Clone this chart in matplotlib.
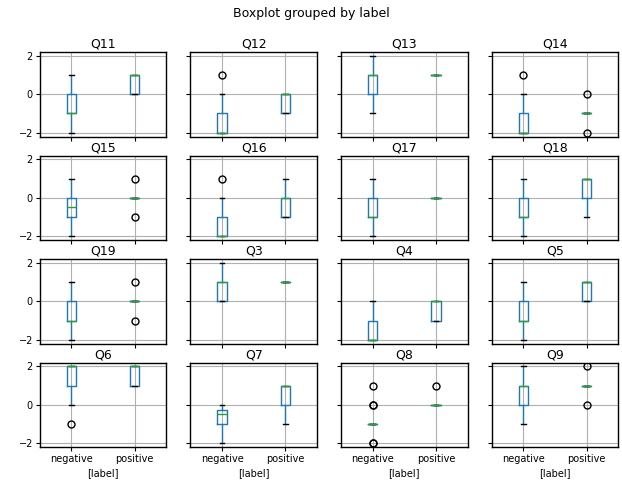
import matplotlib
matplotlib.use("Agg")
import matplotlib.pyplot as plt

# question order as the groups come out (string sort)
questions = ["Q11", "Q12", "Q13", "Q14",
             "Q15", "Q16", "Q17", "Q18",
             "Q19", "Q3", "Q4", "Q5",
             "Q6", "Q7", "Q8", "Q9"]
labels = ["negative", "positive"]

# box statistics per question, label = negative
neg_whislo = [-2, -2, -1, -2, -2, -2, -2, -2, -2, 0, -2, -2, 0, -2, -1, -1]
neg_q1 = [-1, -2, 0, -2, -1, -2, -1, -1, -1, 0, -2, -1, 1, -1, -1, 0]
neg_med = [-1, -2, 1, -2, -0.5, -2, -1, -1, -1, 1, -2, -1, 2, -0.5, -1, 1]
neg_q3 = [0, -1, 1, -1, 0, -1, 0, 0, 0, 1, -1, 0, 2, -0.25, -1, 1]
neg_whishi = [1, 0, 2, 0, 1, 0, 1, 1, 1, 2, 0, 1, 2, 0, -1, 2]
neg_fliers = [[], [1], [], [1], [], [1], [], [], [], [], [], [], [-1], [],
              [1, 0, 0, -2, -2], []]

# box statistics per question, label = positive
pos_whislo = [0, -1, 1, -1, 0, -1, 0, -1, 0, 1, -1, 0, 1, -1, 0, 1]
pos_q1 = [0, -1, 1, -1, 0, -1, 0, 0, 0, 1, -1, 0, 1, 0, 0, 1]
pos_med = [1, 0, 1, -1, 0, 0, 0, 1, 0, 1, 0, 1, 2, 1, 0, 1]
pos_q3 = [1, 0, 1, -1, 0, 0, 0, 1, 0, 1, 0, 1, 2, 1, 0, 1]
pos_whishi = [1, 0, 1, -1, 0, 1, 0, 1, 0, 1, 0, 1, 2, 1, 0, 1]
pos_fliers = [[], [], [], [0, -2], [1, -1], [], [], [], [1, -1], [], [], [], [], [],
              [1], [2, 0]]

box_color = "#1f77b4"
median_color = "#2ca02c"

fig, axes = plt.subplots(4, 4, figsize=(6.22, 4.86), dpi=100, sharex=True, sharey=True)
fig.subplots_adjust(left=0.064, right=0.994, top=0.893, bottom=0.080,
                    wspace=0.19, hspace=0.225)

for i, ax in enumerate(axes.flat):
    stats = [
        dict(label=labels[0], whislo=neg_whislo[i], q1=neg_q1[i], med=neg_med[i],
             q3=neg_q3[i], whishi=neg_whishi[i], fliers=neg_fliers[i]),
        dict(label=labels[1], whislo=pos_whislo[i], q1=pos_q1[i], med=pos_med[i],
             q3=pos_q3[i], whishi=pos_whishi[i], fliers=pos_fliers[i]),
    ]
    ax.bxp(stats, positions=[1, 2], widths=0.15, manage_ticks=False,
           boxprops=dict(color=box_color, linewidth=1.0),
           whiskerprops=dict(color=box_color, linewidth=1.0),
           capprops=dict(color="k", linewidth=1.0),
           medianprops=dict(color=median_color, linewidth=1.0),
           flierprops=dict(marker="o", markerfacecolor="none",
                           markeredgecolor="k", markersize=5))
    ax.set_title(questions[i], fontsize=9, pad=3)
    ax.grid(True, color="#b0b0b0", linewidth=0.8)
    ax.set_xlim(0.5, 2.5)
    ax.set_xticks([1, 2])
    ax.set_xticklabels(labels, fontsize=7)
    ax.set_yticks([-2, 0, 2])
    ax.tick_params(labelsize=7, length=3, pad=2)
    for sp in ax.spines.values():
        sp.set_linewidth(1.0)
    if i >= 12:
        ax.set_xlabel("[label]", fontsize=7, labelpad=3)

axes[0, 0].set_ylim(-2.2, 2.2)

fig.suptitle("Boxplot grouped by label", fontsize=9, y=0.985)
fig.savefig("out.png", dpi=100)
